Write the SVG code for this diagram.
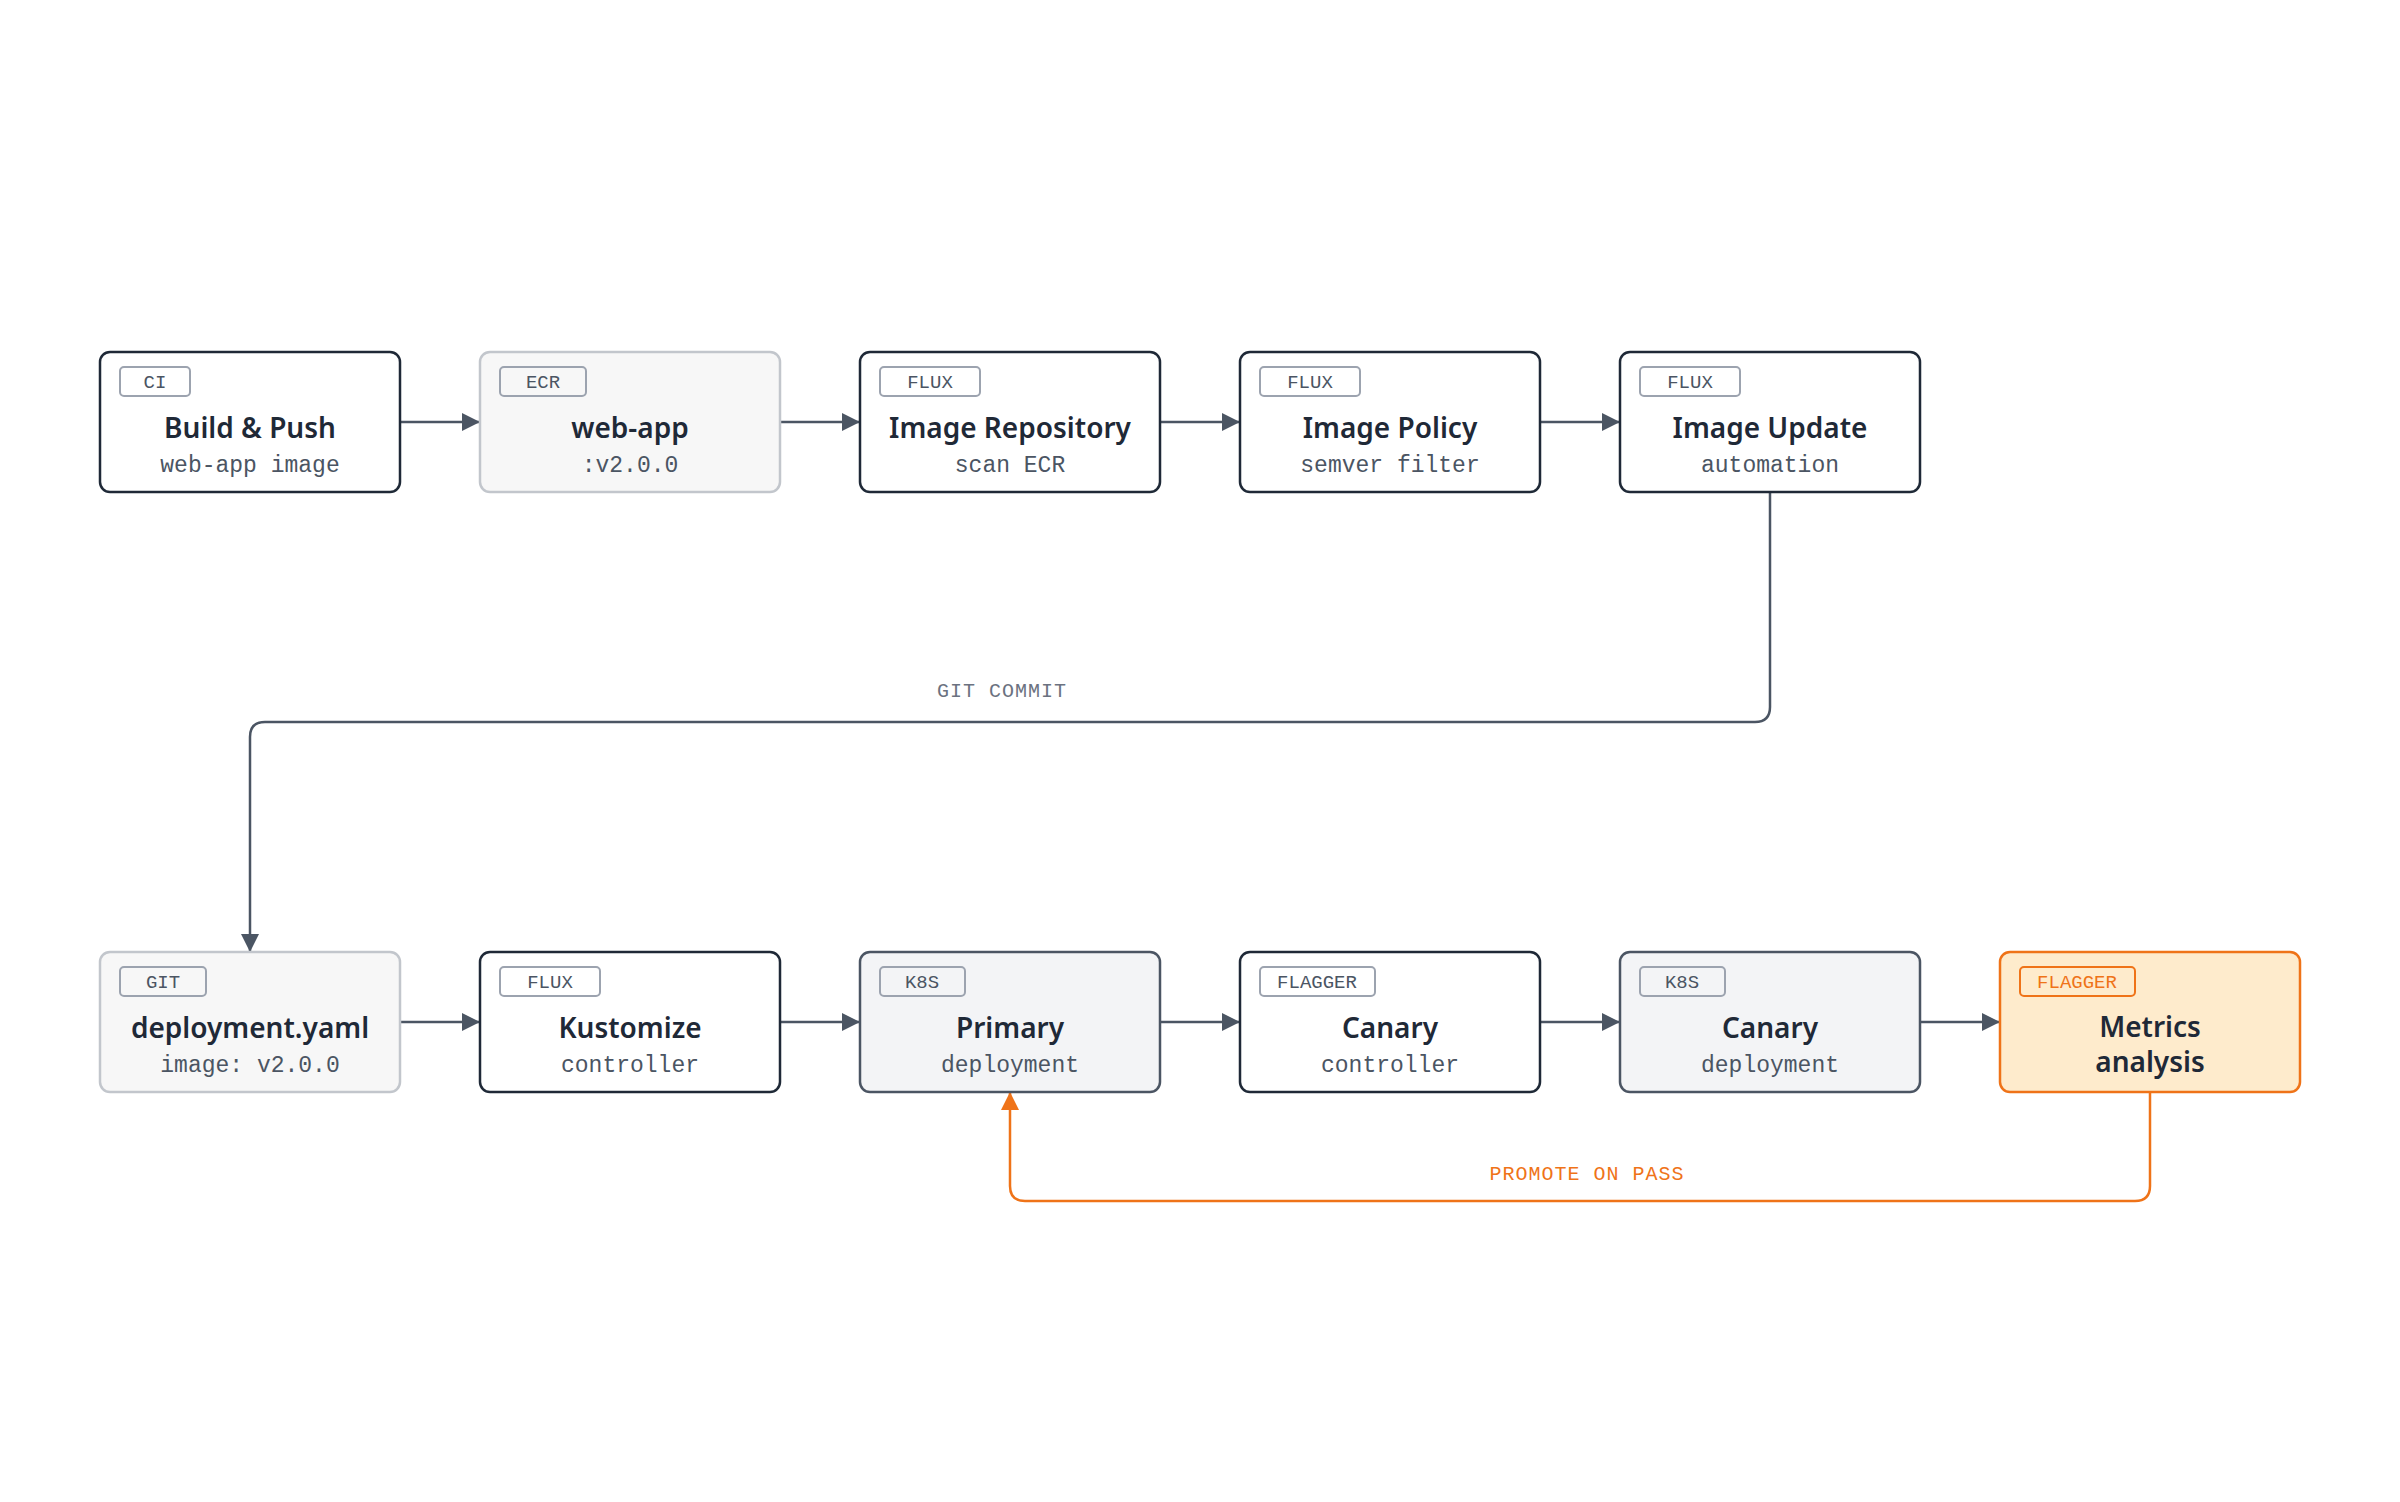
<svg xmlns="http://www.w3.org/2000/svg" width="2400" height="1502" viewBox="0 0 2400 1502">
<style>
.box{stroke-width:2.5}
.dark{fill:#fff;stroke:#1f2937}
.light{fill:#f7f7f7;stroke:#c2c6cc}
.k8s{fill:#f3f4f6;stroke:#4b5563}
.hot{fill:#feebcc;stroke:#ef7318}
.tag{fill:none;stroke:#9ca3af;stroke-width:2}
.tagt{font-family:"Liberation Mono",monospace;font-size:19px;fill:#4b5563;text-anchor:middle}
.title{font-family:"Noto Sans","Open Sans",sans-serif;font-weight:600;font-size:28px;fill:#1f2937;text-anchor:middle}
.sub{font-family:"Liberation Mono",monospace;font-size:23px;fill:#4b5563;text-anchor:middle}
.line{fill:none;stroke:#4b5563;stroke-width:2.5}
.oline{fill:none;stroke:#ef7318;stroke-width:2.5}
.lbl{font-family:"Liberation Mono",monospace;font-size:20px;fill:#6b7280;text-anchor:middle;letter-spacing:1px}
</style>
<defs>
<marker id="ahg" viewBox="0 0 10 10" refX="10" refY="5" markerWidth="22" markerHeight="18" markerUnits="userSpaceOnUse" orient="auto"><path d="M0,0L10,5L0,10z" fill="#4b5563"/></marker>
<marker id="aho" viewBox="0 0 10 10" refX="10" refY="5" markerWidth="22" markerHeight="18" markerUnits="userSpaceOnUse" orient="auto"><path d="M0,0L10,5L0,10z" fill="#ef7318"/></marker>
</defs>
<rect width="2400" height="1502" fill="#fff"/>
<g id="connectors">
<path class="line" marker-end="url(#ahg)" d="M400,422H480"/>
<path class="line" marker-end="url(#ahg)" d="M780,422H860"/>
<path class="line" marker-end="url(#ahg)" d="M1160,422H1240"/>
<path class="line" marker-end="url(#ahg)" d="M1540,422H1620"/>
<path class="line" marker-end="url(#ahg)" d="M1770,492V707Q1770,722 1755,722H265Q250,722 250,737V952"/>
<text class="lbl" x="1002" y="697">GIT COMMIT</text>
<path class="line" marker-end="url(#ahg)" d="M400,1022H480"/>
<path class="line" marker-end="url(#ahg)" d="M780,1022H860"/>
<path class="line" marker-end="url(#ahg)" d="M1160,1022H1240"/>
<path class="line" marker-end="url(#ahg)" d="M1540,1022H1620"/>
<path class="line" marker-end="url(#ahg)" d="M1920,1022H2000"/>
<path class="oline" marker-end="url(#aho)" d="M2150,1092V1186Q2150,1201 2135,1201H1025Q1010,1201 1010,1186V1092"/>
<text class="lbl" x="1587" y="1180" style="fill:#ef7318">PROMOTE ON PASS</text>
</g>
<g id="n1"><rect class="box dark" x="100" y="352" width="300" height="140" rx="10"/><rect class="tag" x="120" y="367" width="70" height="29" rx="4"/><text class="tagt" x="155" y="388">CI</text><text class="title" x="250" y="438">Build &amp; Push</text><text class="sub" x="250" y="472">web-app image</text></g>
<g id="n2"><rect class="box light" x="480" y="352" width="300" height="140" rx="10"/><rect class="tag" x="500" y="367" width="86" height="29" rx="4"/><text class="tagt" x="543" y="388">ECR</text><text class="title" x="630" y="438">web-app</text><text class="sub" x="630" y="472">:v2.0.0</text></g>
<g id="n3"><rect class="box dark" x="860" y="352" width="300" height="140" rx="10"/><rect class="tag" x="880" y="367" width="100" height="29" rx="4"/><text class="tagt" x="930" y="388">FLUX</text><text class="title" x="1010" y="438">Image Repository</text><text class="sub" x="1010" y="472">scan ECR</text></g>
<g id="n4"><rect class="box dark" x="1240" y="352" width="300" height="140" rx="10"/><rect class="tag" x="1260" y="367" width="100" height="29" rx="4"/><text class="tagt" x="1310" y="388">FLUX</text><text class="title" x="1390" y="438">Image Policy</text><text class="sub" x="1390" y="472">semver filter</text></g>
<g id="n5"><rect class="box dark" x="1620" y="352" width="300" height="140" rx="10"/><rect class="tag" x="1640" y="367" width="100" height="29" rx="4"/><text class="tagt" x="1690" y="388">FLUX</text><text class="title" x="1770" y="438">Image Update</text><text class="sub" x="1770" y="472">automation</text></g>
<g id="n6"><rect class="box light" x="100" y="952" width="300" height="140" rx="10"/><rect class="tag" x="120" y="967" width="86" height="29" rx="4"/><text class="tagt" x="163" y="988">GIT</text><text class="title" x="250" y="1038">deployment.yaml</text><text class="sub" x="250" y="1072">image: v2.0.0</text></g>
<g id="n7"><rect class="box dark" x="480" y="952" width="300" height="140" rx="10"/><rect class="tag" x="500" y="967" width="100" height="29" rx="4"/><text class="tagt" x="550" y="988">FLUX</text><text class="title" x="630" y="1038">Kustomize</text><text class="sub" x="630" y="1072">controller</text></g>
<g id="n8"><rect class="box k8s" x="860" y="952" width="300" height="140" rx="10"/><rect class="tag" x="880" y="967" width="85" height="29" rx="4"/><text class="tagt" x="922" y="988">K8S</text><text class="title" x="1010" y="1038">Primary</text><text class="sub" x="1010" y="1072">deployment</text></g>
<g id="n9"><rect class="box dark" x="1240" y="952" width="300" height="140" rx="10"/><rect class="tag" x="1260" y="967" width="115" height="29" rx="4"/><text class="tagt" x="1317" y="988">FLAGGER</text><text class="title" x="1390" y="1038">Canary</text><text class="sub" x="1390" y="1072">controller</text></g>
<g id="n10"><rect class="box k8s" x="1620" y="952" width="300" height="140" rx="10"/><rect class="tag" x="1640" y="967" width="85" height="29" rx="4"/><text class="tagt" x="1682" y="988">K8S</text><text class="title" x="1770" y="1038">Canary</text><text class="sub" x="1770" y="1072">deployment</text></g>
<g id="n11"><rect class="box hot" x="2000" y="952" width="300" height="140" rx="10"/><rect class="tag" x="2020" y="967" width="115" height="29" rx="4" style="stroke:#ef7318"/><text class="tagt" x="2077" y="988" style="fill:#ef7318">FLAGGER</text><text class="title" x="2150" y="1037">Metrics</text><text class="title" x="2150" y="1072">analysis</text></g>
</svg>
